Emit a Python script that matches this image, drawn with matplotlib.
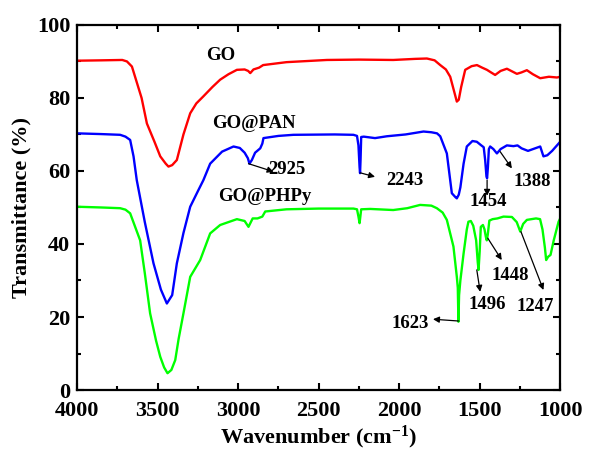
import matplotlib
matplotlib.use("Agg")
import matplotlib.pyplot as plt
from matplotlib.ticker import MultipleLocator

plt.rcParams['font.family'] = ['Liberation Serif', 'DejaVu Serif']
plt.rcParams['font.weight'] = 'bold'
plt.rcParams['mathtext.fontset'] = 'custom'
plt.rcParams['mathtext.rm'] = 'Liberation Serif:bold'
plt.rcParams['mathtext.it'] = 'Liberation Serif:bold'
plt.rcParams['mathtext.bf'] = 'Liberation Serif:bold'

# GO (red)
go_wn = [4000, 3850, 3720, 3691, 3660, 3600, 3567, 3520, 3484, 3450, 3433, 3410, 3381,
         3340, 3298, 3260, 3217, 3160, 3112, 3060, 3008, 2960, 2938, 2925, 2905, 2870,
         2845, 2700, 2449, 2250, 2037, 1900, 1828, 1780, 1745, 1710, 1683, 1660, 1642,
         1630, 1615, 1590, 1550, 1517, 1485, 1455, 1430, 1404, 1370, 1331, 1300, 1269,
         1240, 1207, 1170, 1124, 1070, 1020, 1000]
go_t = [90.2, 90.3, 90.4, 90.0, 88.6, 80.0, 73.0, 68.0, 64.0, 62.0, 61.2, 61.6, 63.0,
        70.0, 75.8, 78.5, 80.4, 83.0, 85.0, 86.5, 87.7, 87.8, 87.4, 86.8, 87.8, 88.3,
        89.0, 89.8, 90.4, 90.5, 90.4, 90.7, 90.8, 90.3, 89.0, 87.8, 85.8, 82.0, 79.0,
        79.5, 83.0, 87.7, 88.7, 89.0, 88.3, 87.7, 87.0, 86.3, 87.4, 88.0, 87.3, 86.6,
        87.0, 87.6, 86.5, 85.4, 85.8, 85.6, 85.8]

# GO@PAN (blue)
pan_wn = [4000, 3850, 3733, 3700, 3671, 3650, 3630, 3580, 3526, 3480, 3443, 3410, 3381,
          3340, 3298, 3250, 3216, 3174, 3100, 3029, 2990, 2960, 2940, 2930, 2915, 2895,
          2863, 2850, 2843, 2750, 2657, 2400, 2284, 2262, 2253, 2246, 2243, 2240, 2236,
          2220, 2150, 2077, 1960, 1849, 1800, 1765, 1745, 1704, 1673, 1650, 1642, 1630,
          1620, 1600, 1580, 1545, 1518, 1490, 1475, 1466, 1458, 1454, 1449, 1443, 1435,
          1415, 1393, 1370, 1331, 1290, 1265, 1240, 1200, 1124, 1104, 1080, 1050, 1010, 1000]
pan_t = [70.3, 70.1, 69.9, 69.4, 68.5, 64.0, 57.5, 46.0, 34.7, 27.5, 23.7, 26.0, 34.7,
         43.0, 50.2, 54.5, 57.5, 62.0, 65.3, 66.7, 66.3, 65.0, 63.5, 62.0, 63.0, 65.0,
         66.2, 67.5, 69.0, 69.6, 69.9, 70.0, 69.9, 69.6, 67.0, 61.0, 59.4, 63.0, 69.3,
         69.4, 69.0, 69.5, 70.0, 70.8, 70.6, 70.3, 69.5, 64.8, 53.9, 52.8, 52.5, 53.5,
         55.5, 62.0, 66.7, 68.2, 68.0, 67.0, 66.5, 63.0, 58.5, 58.0, 61.0, 66.0, 66.7,
         66.0, 64.8, 66.0, 67.0, 66.8, 67.0, 66.2, 65.5, 66.7, 64.0, 64.3, 65.5, 67.5, 68.0]

# GO@PHPy (green)
phpy_wn = [4000, 3850, 3733, 3700, 3671, 3609, 3580, 3547, 3510, 3484, 3460, 3439, 3415,
           3391, 3370, 3340, 3298, 3236, 3174, 3112, 3060, 3008, 2960, 2936, 2910, 2880,
           2850, 2832, 2700, 2500, 2284, 2262, 2253, 2246, 2236, 2180, 2037, 1950, 1870,
           1800, 1766, 1730, 1704, 1663, 1642, 1636, 1632, 1628, 1620, 1600, 1580, 1570,
           1555, 1540, 1522, 1512, 1507, 1500, 1493, 1480, 1470, 1462, 1456, 1450, 1440,
           1420, 1390, 1352, 1300, 1270, 1248, 1230, 1207, 1150, 1125, 1110, 1095, 1087,
           1075, 1060, 1040, 1010, 1000]
phpy_t = [50.2, 50.0, 49.8, 49.4, 48.4, 41.0, 32.0, 21.0, 13.5, 9.1, 6.2, 4.6, 5.5,
          8.2, 14.0, 21.0, 31.0, 35.6, 42.9, 45.2, 46.0, 46.8, 46.3, 44.7, 47.0, 47.0,
          47.5, 48.9, 49.5, 49.7, 49.7, 49.5, 47.5, 45.7, 49.5, 49.6, 49.3, 49.8, 50.7,
          50.5, 49.8, 48.6, 46.6, 39.3, 31.0, 28.0, 18.7, 26.0, 30.0, 37.4, 44.0, 46.1,
          46.3, 45.0, 41.0, 35.0, 32.9, 38.0, 44.7, 45.2, 44.0, 42.0, 41.0, 42.5, 46.4,
          46.8, 47.0, 47.5, 47.4, 46.0, 43.4, 45.5, 46.6, 47.0, 46.8, 44.0, 39.0, 35.6,
          36.5, 37.0, 41.0, 46.1, 47.0]

labels = ["GO", "GO@PAN", "GO@PHPy"]
label_pos = [(3110, 91.6), (2905, 73.0), (2832, 53.0)]

# peak annotations: text, text position, arrow tail, arrow head
peaks = ["2925", "2243", "1454", "1388", "1623", "1496", "1448", "1247"]
peak_text = [(2698, 60.3), (1963, 57.5), (1445, 51.6), (1176, 57.0),
             (1932, 18.3), (1456, 23.3), (1311, 31.5), (1155, 22.8)]
peak_tail = [(2936, 62.0), (2243, 59.5), (1454, 57.5), (1373, 65.3),
             (1630, 18.9), (1518, 32.9), (1450, 41.6), (1244, 43.4)]
peak_head = [(2780, 59.8), (2150, 58.4), (1454, 53.2), (1300, 60.7),
             (1790, 19.4), (1497, 26.9), (1363, 35.6), (1104, 27.4)]

fig = plt.figure(figsize=(6.03, 4.53), dpi=100)
ax = fig.add_axes([0.128, 0.139, 0.801, 0.806])

ax.plot(go_wn, go_t, color='#ff0000', lw=1.7)
ax.plot(pan_wn, pan_t, color='#0000ff', lw=1.7)
ax.plot(phpy_wn, phpy_t, color='#00ff00', lw=1.7)

for lab, (x, y) in zip(labels, label_pos):
    ax.text(x, y, lab, fontsize=13.5, fontweight='bold', ha='center', va='center')

for p, tp, tail, head in zip(peaks, peak_text, peak_tail, peak_head):
    ax.annotate('', xy=head, xytext=tail,
                arrowprops=dict(arrowstyle='-|>', color='black', lw=0.9,
                                mutation_scale=9, shrinkA=0, shrinkB=0))
    ax.text(tp[0], tp[1], p, fontsize=13.5, fontweight='bold', ha='center', va='center')

ax.set_xlim(4000, 1000)
ax.set_ylim(0, 100)
ax.xaxis.set_major_locator(MultipleLocator(500))
ax.xaxis.set_minor_locator(MultipleLocator(250))
ax.yaxis.set_major_locator(MultipleLocator(20))
ax.yaxis.set_minor_locator(MultipleLocator(10))
ax.tick_params(which='both', direction='in', top=True, right=True, width=1.5)
ax.tick_params(which='major', length=5, labelsize=16)
ax.tick_params(axis='x', which='major', pad=8)
ax.tick_params(axis='y', which='major', pad=5)
ax.tick_params(which='minor', length=3)
for s in ax.spines.values():
    s.set_linewidth(1.6)

ax.set_xlabel(r'Wavenumber (cm$^{-1}$)', fontsize=16, fontweight='bold', labelpad=2)
ax.set_ylabel('Transmittance (%)', fontsize=16, fontweight='bold', labelpad=4)

fig.savefig('out.png', dpi=100)
